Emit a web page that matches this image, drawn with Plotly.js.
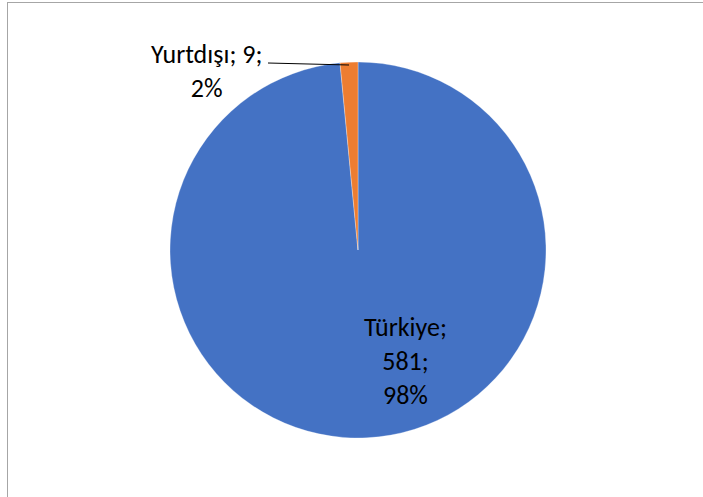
<!DOCTYPE html>
<html><head><meta charset="utf-8">
<script src="https://cdn.plot.ly/plotly-3.0.1.min.js"></script>
<style>
html,body{margin:0;padding:0;overflow:hidden;background:#fff;}
#frame{position:absolute;left:7px;top:2px;width:720px;height:520px;border:1px solid #a6a6a6;box-sizing:border-box;pointer-events:none;}
#chart{position:absolute;left:0;top:0;width:703px;height:497px;}
</style></head>
<body>
<div id="chart"></div>
<div id="frame"></div>
<script>
const labels = ["Türkiye", "Yurtdışı"];
const values = [581, 9];
const percents = ["98%", "2%"];
const colors = ["#4472C4", "#ED7D31"];

const W = 703, H = 497;
const px = (x) => x / W, py = (y) => 1 - y / H;

const trace = {
  type: "pie",
  labels: labels,
  values: values,
  sort: false,
  direction: "clockwise",
  rotation: 0,
  textinfo: "none",
  hoverinfo: "label+value+percent",
  marker: {colors: colors, line: {color: "rgba(255,255,255,0.6)", width: 0.5}},
  domain: {x: [px(170), px(546)], y: [py(438), py(62)]},
  showlegend: false
};

const font = {family: "Carlito, Calibri, 'Open Sans', 'Liberation Sans', sans-serif", size: 26, color: "#000000"};

const layout = {
  width: W, height: H,
  margin: {l: 0, r: 0, t: 0, b: 0},
  paper_bgcolor: "rgba(0,0,0,0)",
  showlegend: false,
  annotations: [
    {xref: "paper", yref: "paper", x: px(405), y: py(361), text: labels[0] + ";<br>" + values[0] + ";<br>" + percents[0],
     showarrow: false, font: font, align: "center", xanchor: "center", yanchor: "middle"},
    {xref: "paper", yref: "paper", x: px(206), y: py(71), text: labels[1] + "; " + values[1] + ";<br>" + percents[1],
     showarrow: false, font: font, align: "center", xanchor: "center", yanchor: "middle"}
  ],
  shapes: [
    {type: "line", xref: "paper", yref: "paper", x0: px(268), y0: py(63), x1: px(349), y1: py(65), line: {color: "#000000", width: 1}}
  ]
};
Plotly.newPlot("chart", [trace], layout, {staticPlot: true});
</script>
</body></html>
